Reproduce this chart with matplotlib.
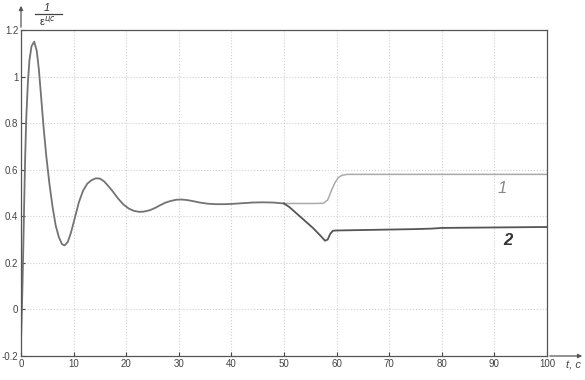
import matplotlib
matplotlib.use("Agg")
import matplotlib.pyplot as plt
import numpy as np

# common transient (0..50 s)
t_common = [0, 0.15, 0.3, 0.45, 0.6, 0.8, 1.0, 1.3, 1.6, 2.0, 2.5, 3.0, 3.4, 3.8, 4.3, 4.8,
            5.4, 6.0, 6.6, 7.2, 7.8, 8.3, 8.9, 9.5, 10.2, 11.0, 11.8, 12.6, 13.4, 14.2,
            15.0, 15.8, 16.6, 17.5, 18.5, 19.5, 20.5, 21.5, 22.5, 23.3, 24.5, 25.5,
            26.5, 27.5, 28.5, 29.5, 30.5, 31.5, 32.5, 34.0, 35.5, 37.0, 38.5, 40.0,
            42.0, 44.0, 46.0, 48.0, 50.0]
y_common = [-0.14, -0.02, 0.12, 0.28, 0.45, 0.66, 0.82, 0.97, 1.07, 1.13, 1.15, 1.11, 1.03,
            0.92, 0.78, 0.66, 0.54, 0.44, 0.36, 0.31, 0.28, 0.275, 0.29, 0.33, 0.39, 0.46,
            0.51, 0.54, 0.555, 0.563, 0.562, 0.55, 0.53, 0.505, 0.475, 0.45, 0.433, 0.423,
            0.419, 0.42, 0.426, 0.436, 0.448, 0.459, 0.466, 0.471, 0.472, 0.47, 0.466,
            0.459, 0.454, 0.452, 0.452, 0.453, 0.456, 0.459, 0.46, 0.459, 0.455]

# curve 1 after 50 s
t_1 = [50.0, 52.0, 54.0, 56.0, 57.5, 58.3, 59.0, 59.7, 60.3, 61.0, 62.0, 65.0, 70.0, 80.0, 90.0, 100.0]
y_1 = [0.455, 0.455, 0.455, 0.455, 0.456, 0.47, 0.51, 0.545, 0.565, 0.576, 0.58, 0.58, 0.58, 0.58, 0.58, 0.58]

# curve 2 after 50 s
t_2 = [50.0, 51.0, 52.5, 54.0, 55.5, 57.0, 57.8, 58.3, 58.8, 59.3, 60.0, 65.0, 70.0, 75.0, 78.0, 80.0, 90.0, 100.0]
y_2 = [0.455, 0.44, 0.41, 0.38, 0.35, 0.315, 0.295, 0.30, 0.325, 0.338, 0.339, 0.341, 0.343, 0.345, 0.347, 0.35, 0.352, 0.354]

x_ticks = [0, 10, 20, 30, 40, 50, 60, 70, 80, 90, 100]
y_ticks = [-0.2, 0, 0.2, 0.4, 0.6, 0.8, 1, 1.2]
y_tick_labels = ["-0.2", "0", "0.2", "0.4", "0.6", "0.8", "1", "1.2"]

plt.rcParams['font.family'] = ['Liberation Sans', 'DejaVu Sans']
fig = plt.figure(figsize=(5.85, 3.8), dpi=100)
ax = fig.add_axes([21/585, 1-356/380, (547-21)/585, (356-30)/380])

ax.plot(t_1, y_1, color='#aaaaaa', lw=1.1)
ax.plot(t_common, y_common, color='#737373', lw=1.3)
ax.plot(t_2, y_2, color='#555555', lw=1.3)

ax.set_xlim(0, 100)
ax.set_ylim(-0.2, 1.2)
ax.set_xticks(x_ticks)
ax.set_xticklabels([str(v) for v in x_ticks])
ax.set_yticks(y_ticks)
ax.set_yticklabels(y_tick_labels)
ax.tick_params(direction='in', length=3, labelsize=7, colors='#444444', pad=2)
ax.grid(True, color='#d0d0d0', linestyle=':', lw=0.8)
for s in ax.spines.values():
    s.set_color('#555555')
    s.set_linewidth(0.9)

# axis arrows
ax.annotate('', xy=(585/585, 1-356/380), xycoords='figure fraction',
            xytext=(547/585, 1-356/380), textcoords='figure fraction',
            arrowprops=dict(arrowstyle='-|>', color='#555555', lw=0.9, mutation_scale=6))
ax.annotate('', xy=(21/585, 1-3/380), xycoords='figure fraction',
            xytext=(21/585, 1-30/380), textcoords='figure fraction',
            arrowprops=dict(arrowstyle='-|>', color='#555555', lw=0.9, mutation_scale=6))

fig.text(573/585, 1-366/380, 't, c', fontsize=8, style='italic', color='#444444',
         ha='center', va='center')
fig.text(47/585, 1-8/380, '1', fontsize=8, style='italic', color='#333333', ha='center', va='center')
fig.add_artist(plt.Line2D([35/585, 62/585], [1-14/380, 1-14/380], color='#444444', lw=0.9))
fig.text(47/585, 1-21/380, 'ε$^{цс}$', fontsize=8, color='#333333', ha='center', va='center')

ax.text(91.5, 0.52, '1', fontsize=12, style='italic', color='#888888', ha='center', va='center')
ax.text(92.5, 0.295, '2', fontsize=12, style='italic', fontweight='bold', color='#333333',
        ha='center', va='center')

fig.savefig('out.png', dpi=100)
